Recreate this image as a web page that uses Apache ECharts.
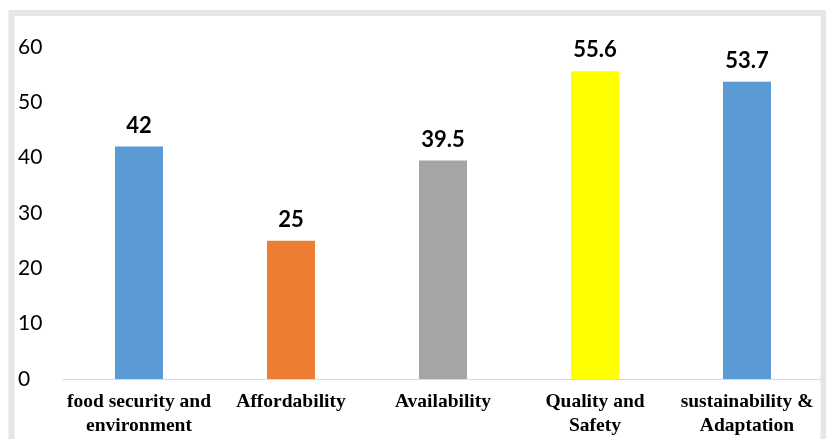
<!DOCTYPE html>
<html><head><meta charset="utf-8">
<script src="https://cdn.jsdelivr.net/npm/echarts@6/dist/echarts.min.js"></script>
<style>html,body{margin:0;padding:0;background:#fff}#c{width:826px;height:439px}</style>
</head><body><div id="c"></div>
<script>
const categories = ['food security and\nenvironment', 'Affordability', 'Availability', 'Quality and\nSafety', 'sustainability &\nAdaptation'];
const values = [42, 25, 39.5, 55.6, 53.7];
const colors = ['#5B9BD5', '#ED7D31', '#A5A5A5', '#FFFF00', '#5B9BD5'];
const yTicks = [0, 10, 20, 30, 40, 50, 60];

const chart = echarts.init(document.getElementById('c'));
chart.setOption({
  animation: false,
  backgroundColor: '#fff',
  graphic: [{
    type: 'rect', z: -1,
    shape: { x: 11.5, y: 13, width: 812, height: 440 },
    style: { fill: '#fff', stroke: '#E6E6E6', lineWidth: 6 }
  }],
  grid: { left: 63, right: 3, top: 47, bottom: 60 },
  xAxis: {
    type: 'category', data: categories,
    axisLine: { lineStyle: { color: '#D9D9D9', width: 1 } },
    axisTick: { show: false },
    axisLabel: {
      color: '#000', fontFamily: 'Liberation Serif', fontWeight: 'bold', fontSize: 19.5,
      lineHeight: 24, margin: 11, interval: 0
    }
  },
  yAxis: {
    type: 'value', min: yTicks[0], max: yTicks[yTicks.length - 1], interval: 10,
    splitLine: { show: false },
    axisLine: { show: false }, axisTick: { show: false },
    axisLabel: { color: '#000', fontFamily: 'Lato', fontSize: 21, align: 'left', margin: 45 }
  },
  series: [{
    type: 'bar', barWidth: 48,
    data: values.map((v, i) => ({ value: v, itemStyle: { color: colors[i] } })),
    label: { show: true, position: 'top', distance: 10, color: '#000', fontFamily: 'Lato', fontWeight: 'bold', fontSize: 22 }
  }]
});
</script></body></html>
